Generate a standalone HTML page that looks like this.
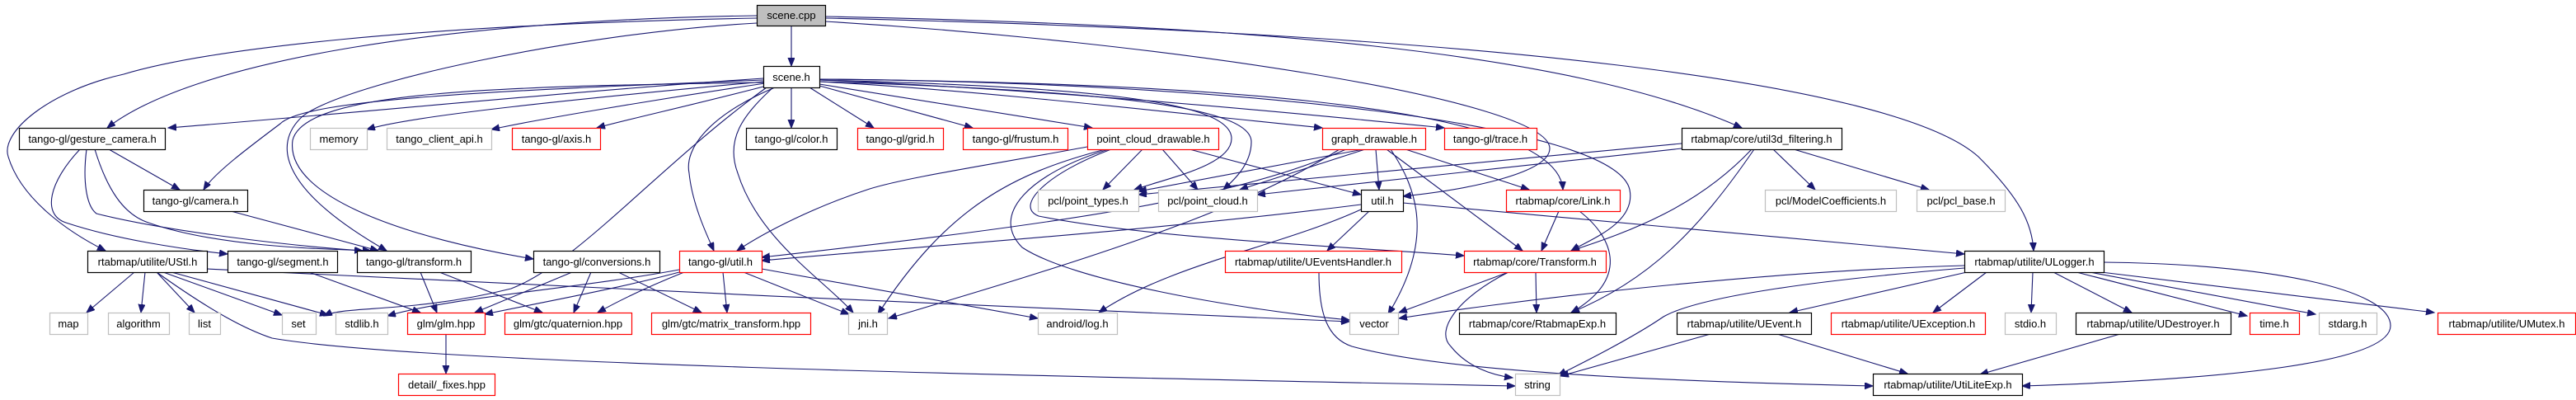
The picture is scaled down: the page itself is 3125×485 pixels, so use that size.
<!DOCTYPE html>
<html><head><meta charset="utf-8"><style>
html,body{margin:0;padding:0;background:#fff;}
svg{display:block;}
text{font-family:"Liberation Sans",Arial,sans-serif;font-size:13px;fill:#000;text-anchor:middle;}
.e{fill:none;stroke:#191970;stroke-width:1.1;marker-end:url(#a);}
.B{fill:#fff;stroke:#000;stroke-width:1.2;}
.R{fill:#fff;stroke:#ff0000;stroke-width:1.2;}
.G{fill:#fff;stroke:#bfbfbf;stroke-width:1.2;}
</style></head><body>
<svg width="3125" height="485" viewBox="0 0 3125 485" xmlns="http://www.w3.org/2000/svg">
<defs><marker id="a" markerUnits="userSpaceOnUse" markerWidth="12" markerHeight="10" refX="10" refY="4" orient="auto"><path d="M0,0 L10,4 L0,8 z" fill="#191970" stroke="#191970"/></marker></defs>
<g>
<!-- scene.cpp -->
<path class="e" d="M960,31 L960,80"/>
<path class="e" d="M918,19 C560,24 240,70 130,155"/>
<path class="e" d="M918,22 C500,30 250,60 150,90 C60,110 0,160 10,190 C25,240 80,280 128,304"/>
<path class="e" d="M918,28 C700,40 420,100 367,141 C330,175 340,230 469,304"/>
<path class="e" d="M1001,20 C1500,30 1900,60 2113,155"/>
<path class="e" d="M1001,22 C1800,40 2300,100 2400,190 C2450,240 2465,270 2467,304"/>
<path class="e" d="M1001,26 C1400,50 1880,120 1880,180 C1880,210 1780,230 1702,238"/>
<path class="e" d="M994,96 C1500,100 1960,150 1977,230 C1985,270 1930,290 1906,304"/>
<!-- scene.h -->
<path class="e" d="M926,95 C700,110 400,140 204,155"/>
<path class="e" d="M926,97 C600,110 370,120 340,150 C300,180 260,210 247,230"/>
<path class="e" d="M926,99 C700,120 500,140 445,157"/>
<path class="e" d="M928,101 C800,120 650,145 596,157"/>
<path class="e" d="M930,104 C850,125 760,145 724,155"/>
<path class="e" d="M926,100 C600,105 370,110 355,170 C345,240 500,290 647,314"/>
<path class="e" d="M940,106 C860,140 830,180 836,210 C840,250 860,290 866,304"/>
<path class="e" d="M938,106 C900,140 880,170 895,210 C920,290 1000,340 1035,379"/>
<path class="e" d="M960,106 L960,155"/>
<path class="e" d="M982,106 L1060,155"/>
<path class="e" d="M994,104 L1180,155"/>
<path class="e" d="M994,102 L1325,155"/>
<path class="e" d="M994,99 C1200,110 1450,140 1604,155"/>
<path class="e" d="M994,97 C1300,110 1600,140 1752,155"/>
<path class="e" d="M994,97 C1300,105 1494,120 1494,168 C1494,200 1420,215 1376,230"/>
<path class="e" d="M994,99 C1350,110 1518,130 1518,172 C1518,200 1495,220 1484,230"/>
<path class="e" d="M994,96 C1400,100 1890,120 1896,230"/>
<path class="e" d="M930,106 C800,200 700,320 620,350 C500,380 420,370 393,383"/>
<!-- gesture_camera -->
<path class="e" d="M132,181 L218,230"/>
<path class="e" d="M97,181 C60,220 50,260 80,270 C140,290 220,302 276,308"/>
<path class="e" d="M105,181 C100,220 105,250 117,259 C200,280 350,298 440,304"/>
<path class="e" d="M115,181 C130,230 150,260 180,270 C260,298 380,302 450,304"/>
<!-- camera -->
<path class="e" d="M280,256 L459,304"/>
<!-- UStl -->
<path class="e" d="M163,330 L105,379"/>
<path class="e" d="M176,330 L171,379"/>
<path class="e" d="M190,330 L236,379"/>
<path class="e" d="M198,330 L342,382"/>
<path class="e" d="M208,330 L398,382"/>
<path class="e" d="M190,330 C260,380 300,400 330,410 C500,440 1200,455 1838,468"/>
<path class="e" d="M251,326 C600,345 1300,375 1637,390"/>
<!-- segment / transform / conversions -->
<path class="e" d="M375,330 L510,379"/>
<path class="e" d="M510,330 L530,379"/>
<path class="e" d="M533,330 L658,379"/>
<path class="e" d="M694,330 L576,379"/>
<path class="e" d="M717,330 L696,379"/>
<path class="e" d="M750,330 L851,379"/>
<path class="e" d="M541,405 L541,453"/>
<!-- tango util -->
<path class="e" d="M824,330 C750,350 640,370 588,381"/>
<path class="e" d="M830,330 C780,350 750,365 725,379"/>
<path class="e" d="M877,330 L882,379"/>
<path class="e" d="M902,330 L1030,381"/>
<path class="e" d="M924,326 L1259,386"/>
<path class="e" d="M824,327 C700,350 550,360 470,383"/>
<!-- point_cloud_drawable -->
<path class="e" d="M1319,178 C1200,200 1100,215 1055,229 C990,250 930,280 894,304"/>
<path class="e" d="M1341,181 C1230,210 1150,250 1065,381"/>
<path class="e" d="M1386,181 L1338,230"/>
<path class="e" d="M1410,181 L1453,230"/>
<path class="e" d="M1345,181 C1250,210 1200,260 1240,300 C1300,340 1500,375 1637,388"/>
<path class="e" d="M1348,181 C1270,210 1230,250 1260,262 C1400,290 1650,300 1776,310"/>
<path class="e" d="M1443,181 L1651,236"/>
<!-- graph_drawable -->
<path class="e" d="M1633,181 C1500,240 1300,270 924,312"/>
<path class="e" d="M1654,181 L1381,232"/>
<path class="e" d="M1656,181 L1504,230"/>
<path class="e" d="M1669,181 L1673,230"/>
<path class="e" d="M1705,181 L1855,230"/>
<path class="e" d="M1682,181 L1847,304"/>
<path class="e" d="M1687,181 C1720,230 1740,290 1684,381"/>
<path class="e" d="M1625,181 C1500,260 1300,320 1078,386"/>
<!-- util.h -->
<path class="e" d="M1661,256 L1610,304"/>
<path class="e" d="M1702,246 L2383,308"/>
<path class="e" d="M1651,254 C1550,300 1420,320 1333,379"/>
<path class="e" d="M1651,248 C1400,280 1100,300 924,316"/>
<!-- UEventsHandler -->
<path class="e" d="M1600,330 C1600,380 1610,410 1640,420 C1750,450 2000,462 2272,468"/>
<!-- util3d_filtering -->
<path class="e" d="M2040,174 L1381,236"/>
<path class="e" d="M2040,180 L1525,236"/>
<path class="e" d="M2125,181 C2060,250 1980,280 1906,304"/>
<path class="e" d="M2128,181 C2060,280 2000,340 1906,379"/>
<path class="e" d="M2151,181 L2202,230"/>
<path class="e" d="M2176,181 L2340,230"/>
<!-- Link -->
<path class="e" d="M1891,256 L1870,304"/>
<path class="e" d="M1916,256 C1960,290 1975,340 1906,379"/>
<!-- Transform -->
<path class="e" d="M1863,330 L1864,379"/>
<path class="e" d="M1830,330 L1697,379"/>
<path class="e" d="M1830,330 C1770,360 1740,400 1760,420 C1780,445 1810,455 1835,458"/>
<!-- ULogger -->
<path class="e" d="M2383,322 C2100,330 1800,370 1697,386"/>
<path class="e" d="M2383,325 C2200,340 2060,360 2018,384 C1980,410 1920,440 1890,455"/>
<path class="e" d="M2386,330 L2171,379"/>
<path class="e" d="M2410,330 L2345,379"/>
<path class="e" d="M2466,330 L2464,379"/>
<path class="e" d="M2491,330 L2586,379"/>
<path class="e" d="M2519,330 L2726,383"/>
<path class="e" d="M2535,330 L2809,381"/>
<path class="e" d="M2549,330 L2953,379"/>
<path class="e" d="M2552,318 C2750,320 2900,350 2900,395 C2900,440 2700,460 2453,468"/>
<!-- UEvent / UDestroyer -->
<path class="e" d="M2075,405 L1893,456"/>
<path class="e" d="M2156,405 L2314,453"/>
<path class="e" d="M2572,405 L2402,454"/>
</g>
<g>
<rect class="B" x="918.5" y="6.5" width="83" height="25" style="fill:#bfbfbf"/><text x="960" y="23">scene.cpp</text>
<rect class="B" x="926.5" y="80.5" width="68" height="26"/><text x="960" y="98">scene.h</text>

<rect class="B" x="23.5" y="155.5" width="177" height="26"/><text x="112" y="173">tango-gl/gesture_camera.h</text>
<rect class="G" x="376.5" y="155.5" width="69" height="26"/><text x="411" y="173">memory</text>
<rect class="G" x="469.5" y="155.5" width="127" height="26"/><text x="533" y="173">tango_client_api.h</text>
<rect class="R" x="621.5" y="155.5" width="107" height="26"/><text x="675" y="173">tango-gl/axis.h</text>
<rect class="B" x="905.5" y="155.5" width="110" height="26"/><text x="960" y="173">tango-gl/color.h</text>
<rect class="R" x="1040.5" y="155.5" width="104" height="26"/><text x="1092" y="173">tango-gl/grid.h</text>
<rect class="R" x="1168.5" y="155.5" width="127" height="26"/><text x="1232" y="173">tango-gl/frustum.h</text>
<rect class="R" x="1319.5" y="155.5" width="159" height="26"/><text x="1399" y="173">point_cloud_drawable.h</text>
<rect class="R" x="1604.5" y="155.5" width="125" height="26"/><text x="1667" y="173">graph_drawable.h</text>
<rect class="R" x="1752.5" y="155.5" width="112" height="26"/><text x="1808" y="173">tango-gl/trace.h</text>
<rect class="B" x="2040.5" y="155.5" width="194" height="26"/><text x="2137" y="173">rtabmap/core/util3d_filtering.h</text>

<rect class="B" x="174.5" y="230.5" width="126" height="26"/><text x="237" y="248">tango-gl/camera.h</text>
<rect class="G" x="1259.5" y="230.5" width="122" height="26"/><text x="1320" y="248">pcl/point_types.h</text>
<rect class="G" x="1405.5" y="230.5" width="120" height="26"/><text x="1465" y="248">pcl/point_cloud.h</text>
<rect class="B" x="1651.5" y="230.5" width="51" height="26"/><text x="1677" y="248">util.h</text>
<rect class="R" x="1827.5" y="230.5" width="138" height="26"/><text x="1896" y="248">rtabmap/core/Link.h</text>
<rect class="G" x="2141.5" y="230.5" width="159" height="26"/><text x="2221" y="248">pcl/ModelCoefficients.h</text>
<rect class="G" x="2325.5" y="230.5" width="107" height="26"/><text x="2379" y="248">pcl/pcl_base.h</text>

<rect class="B" x="106.5" y="304.5" width="145" height="26"/><text x="179" y="322">rtabmap/utilite/UStl.h</text>
<rect class="B" x="276.5" y="304.5" width="133" height="26"/><text x="343" y="322">tango-gl/segment.h</text>
<rect class="B" x="433.5" y="304.5" width="138" height="26"/><text x="502" y="322">tango-gl/transform.h</text>
<rect class="B" x="647.5" y="304.5" width="153" height="26"/><text x="724" y="322">tango-gl/conversions.h</text>
<rect class="R" x="824.5" y="304.5" width="100" height="26"/><text x="874" y="322">tango-gl/util.h</text>
<rect class="R" x="1486.5" y="304.5" width="214" height="26"/><text x="1593" y="322">rtabmap/utilite/UEventsHandler.h</text>
<rect class="R" x="1776.5" y="304.5" width="172" height="26"/><text x="1862" y="322">rtabmap/core/Transform.h</text>
<rect class="B" x="2383.5" y="304.5" width="169" height="26"/><text x="2468" y="322">rtabmap/utilite/ULogger.h</text>

<rect class="G" x="60.5" y="379.5" width="46" height="26"/><text x="83" y="397">map</text>
<rect class="G" x="131.5" y="379.5" width="74" height="26"/><text x="168" y="397">algorithm</text>
<rect class="G" x="229.5" y="379.5" width="38" height="26"/><text x="248" y="397">list</text>
<rect class="G" x="342.5" y="379.5" width="41" height="26"/><text x="362" y="397">set</text>
<rect class="G" x="407.5" y="379.5" width="63" height="26"/><text x="439" y="397">stdlib.h</text>
<rect class="R" x="494.5" y="379.5" width="94" height="26"/><text x="541" y="397">glm/glm.hpp</text>
<rect class="R" x="612.5" y="379.5" width="154" height="26"/><text x="689" y="397">glm/gtc/quaternion.hpp</text>
<rect class="R" x="790.5" y="379.5" width="193" height="26"/><text x="887" y="397">glm/gtc/matrix_transform.hpp</text>
<rect class="G" x="1029.5" y="379.5" width="47" height="26"/><text x="1053" y="397">jni.h</text>
<rect class="G" x="1259.5" y="379.5" width="96" height="26"/><text x="1307" y="397">android/log.h</text>
<rect class="G" x="1637.5" y="379.5" width="59" height="26"/><text x="1667" y="397">vector</text>
<rect class="B" x="1770.5" y="379.5" width="190" height="26"/><text x="1865" y="397">rtabmap/core/RtabmapExp.h</text>
<rect class="B" x="2034.5" y="379.5" width="163" height="26"/><text x="2116" y="397">rtabmap/utilite/UEvent.h</text>
<rect class="R" x="2221.5" y="379.5" width="187" height="26"/><text x="2315" y="397">rtabmap/utilite/UException.h</text>
<rect class="G" x="2432.5" y="379.5" width="62" height="26"/><text x="2463" y="397">stdio.h</text>
<rect class="B" x="2518.5" y="379.5" width="188" height="26"/><text x="2612" y="397">rtabmap/utilite/UDestroyer.h</text>
<rect class="R" x="2729.5" y="379.5" width="60" height="26"/><text x="2759" y="397">time.h</text>
<rect class="G" x="2813.5" y="379.5" width="70" height="26"/><text x="2848" y="397">stdarg.h</text>
<rect class="R" x="2957.5" y="379.5" width="167" height="26"/><text x="3041" y="397">rtabmap/utilite/UMutex.h</text>

<rect class="R" x="483.5" y="453.5" width="117" height="26"/><text x="542" y="471">detail/_fixes.hpp</text>
<rect class="G" x="1838.5" y="453.5" width="54" height="26"/><text x="1865" y="471">string</text>
<rect class="B" x="2272.5" y="453.5" width="181" height="26"/><text x="2363" y="471">rtabmap/utilite/UtiLiteExp.h</text>
</g>
</svg>
</body></html>
